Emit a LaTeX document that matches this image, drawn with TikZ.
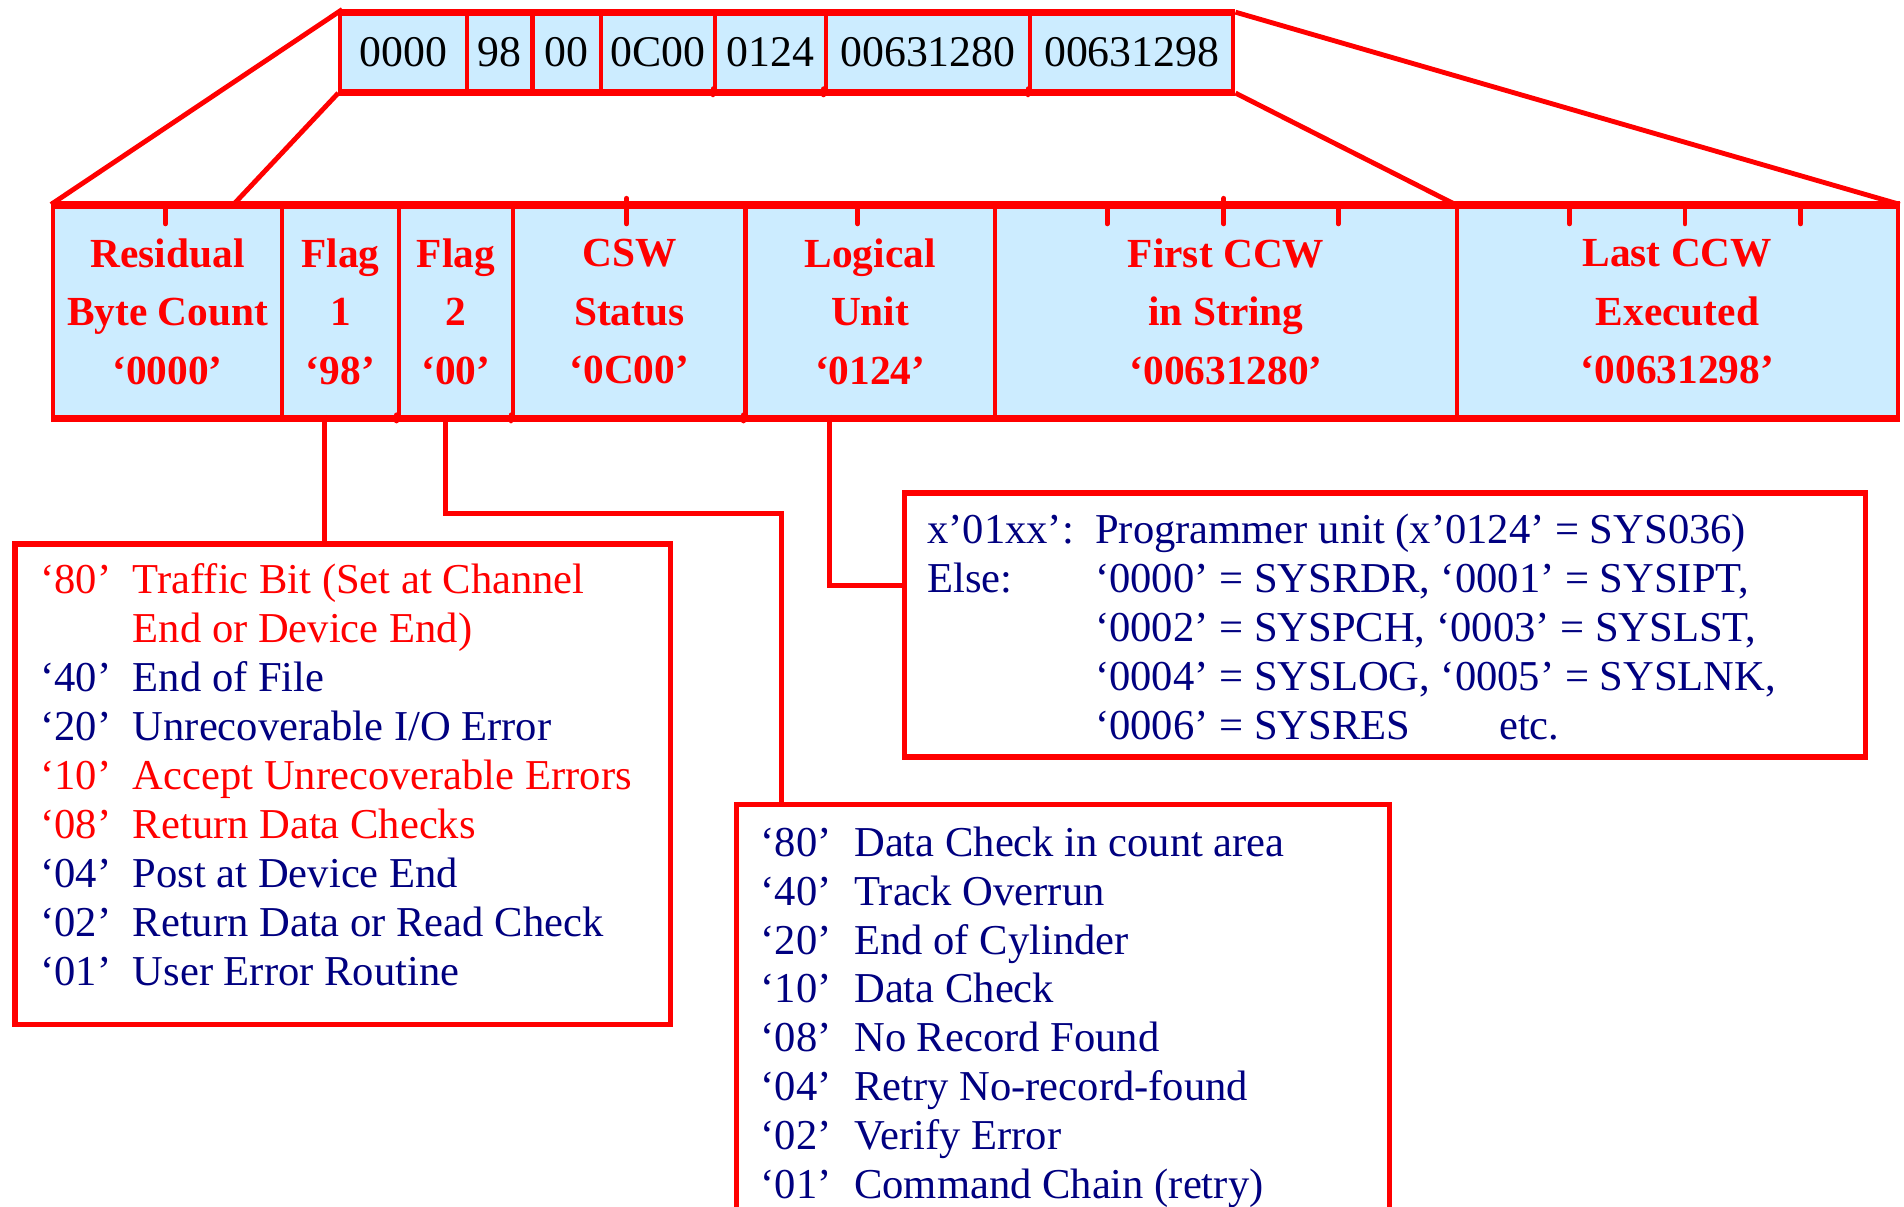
\documentclass[tikz,border=0pt]{standalone}
\usepackage{fontspec}
\setmainfont{Liberation Serif}
\definecolor{lred}{RGB}{255,0,0}
\definecolor{navy}{RGB}{0,0,128}
\definecolor{cellblue}{RGB}{204,236,255}
\newcommand\codeA[1]{\makebox[76pt][l]{#1}}
\newcommand\codeB[1]{\makebox[138pt][l]{#1}}
\newcommand\codeC[1]{\makebox[77pt][l]{#1}}
\begin{document}
\begin{tikzpicture}[x=1pt,y=-1pt,
  redline/.style={draw=lred,line width=4pt},
  frameline/.style={draw=lred,line width=5pt},
  tickline/.style={draw=lred,line width=4pt,line cap=round},
  topcell/.style={draw=lred,fill=cellblue,line width=3.5pt,inner sep=0pt,anchor=north west,
    minimum height=63pt,font=\fontsize{36}{40}\selectfont,text=black},
  rowcell/.style={draw=lred,fill=cellblue,line width=3.5pt,inner sep=0pt,anchor=north west,
    minimum height=173pt,align=center,font=\fontsize{34}{48}\selectfont\bfseries,text=lred},
  infobox/.style={draw=lred,line width=4.5pt,fill=white,inner sep=0pt,anchor=north west},
  listtext/.style={anchor=base west,inner sep=0pt,text=navy,font=\fontsize{35}{40.25}\selectfont}
]
\useasboundingbox (0,0) rectangle (1565,991.3);

% ---- top strip ----
\node[topcell,minimum width=104pt] (t1) at (278,10) {0000};
\node[topcell,minimum width=54pt]  (t2) at (382,10) {98};
\node[topcell,minimum width=56pt]  (t3) at (436,10) {00};
\node[topcell,minimum width=94pt]  (t4) at (492,10) {0C00};
\node[topcell,minimum width=91pt]  (t5) at (586,10) {0124};
\node[topcell,minimum width=168pt] (t6) at (677,10) {00631280};
\node[topcell,minimum width=167pt] (t7) at (845,10) {00631298};
\draw[frameline] (t1.north west) -- (t7.north east);
\draw[frameline] (t1.south west) -- (t7.south east);
\foreach \x in {586,677,845} \draw[tickline] (\x,73) -- (\x,78);

% ---- field row ----
\node[rowcell,minimum width=188pt] (r1) at (42,168) {Residual\\Byte Count\\‘0000’};
\node[rowcell,minimum width=96pt]  (r2) at (230,168) {Flag\\1\\‘98’};
\node[rowcell,minimum width=94pt]  (r3) at (326,168) {Flag\\2\\‘00’};
\node[rowcell,minimum width=191pt] (r4) at (420,168) {CSW\\Status\\‘0C00’};
\node[rowcell,minimum width=205pt] (r5) at (611,168) {Logical\\Unit\\‘0124’};
\node[rowcell,minimum width=380pt] (r6) at (816,168) {First CCW\\in String\\‘00631280’};
\node[rowcell,minimum width=362pt] (r7) at (1196,168) {Last CCW\\Executed\\‘00631298’};
\draw[frameline] (r1.north west) -- (r7.north east);
\draw[frameline] (r1.south west) -- (r7.south east);
\foreach \x in {136,705,910,1100,1290,1385,1480} \draw[tickline] (\x,168) -- (\x,184);
\foreach \x in {515,1006} \draw[tickline] (\x,163) -- (\x,184);
\foreach \x in {326,420,611} \draw[tickline] (\x,341) -- (\x,346);

% ---- expansion lines ----
\coordinate (d2) at (192,168);
\draw[redline,shorten <=-4pt] (t1.north west) -- (r1.north west);
\draw[redline] (t1.south west) -- (d2);
\draw[redline] (t7.north east) -- (r7.north east);
\draw[redline] (t7.south east) -- (r7.north west);

% ---- info boxes ----
\node[infobox,minimum width=539pt,minimum height=395pt] (box1) at (10,445) {};
\node[infobox,minimum width=790pt,minimum height=217pt] (box2) at (741,403) {};
\node[infobox,minimum width=537pt,minimum height=360pt] (box3) at (603,659) {};

% ---- connectors ----
\coordinate (c1) at (267,341);
\coordinate (c2) at (366,341);
\coordinate (c3) at (682,341);
\coordinate (c2b) at (642,422);
\draw[redline] (c1) -- (c1 |- box1.north);
\draw[redline] (c2) |- (c2b) -- (c2b |- box3.north);
\draw[redline] (c3) |- (box2.west |- 0,481);

% ---- texts ----
\node[listtext] (txt1) at (33,488) {%
\begin{tabular}[t]{@{}l@{}l@{}}
\codeA{\color{lred}‘80’} & \textcolor{lred}{Traffic Bit (Set at Channel}\\
\codeA{} & \textcolor{lred}{End or Device End)}\\
\codeA{‘40’} & End of File\\
\codeA{‘20’} & Unrecoverable I/O Error\\
\codeA{\color{lred}‘10’} & \textcolor{lred}{Accept Unrecoverable Errors}\\
\codeA{\color{lred}‘08’} & \textcolor{lred}{Return Data Checks}\\
\codeA{‘04’} & Post at Device End\\
\codeA{‘02’} & Return Data or Read Check\\
\codeA{‘01’} & User Error Routine
\end{tabular}};

\node[listtext] (txt2) at (762,447) {%
\begin{tabular}[t]{@{}l@{}l@{}}
\codeB{x’01xx’:} & Programmer unit (x’0124’ = SYS036)\\
\codeB{Else:} & ‘0000’ = SYSRDR, ‘0001’ = SYSIPT,\\
\codeB{} & ‘0002’ = SYSPCH, ‘0003’ = SYSLST,\\
\codeB{} & ‘0004’ = SYSLOG, ‘0005’ = SYSLNK,\\
\codeB{} & \makebox[332pt][l]{‘0006’ = SYSRES}etc.
\end{tabular}};

\node[listtext,font=\fontsize{35}{40.1}\selectfont] (txt3) at (625,704) {%
\begin{tabular}[t]{@{}l@{}l@{}}
\codeC{‘80’} & Data Check in count area\\
\codeC{‘40’} & Track Overrun\\
\codeC{‘20’} & End of Cylinder\\
\codeC{‘10’} & Data Check\\
\codeC{‘08’} & No Record Found\\
\codeC{‘04’} & Retry No-record-found\\
\codeC{‘02’} & Verify Error\\
\codeC{‘01’} & Command Chain (retry)
\end{tabular}};
\end{tikzpicture}
\end{document}
